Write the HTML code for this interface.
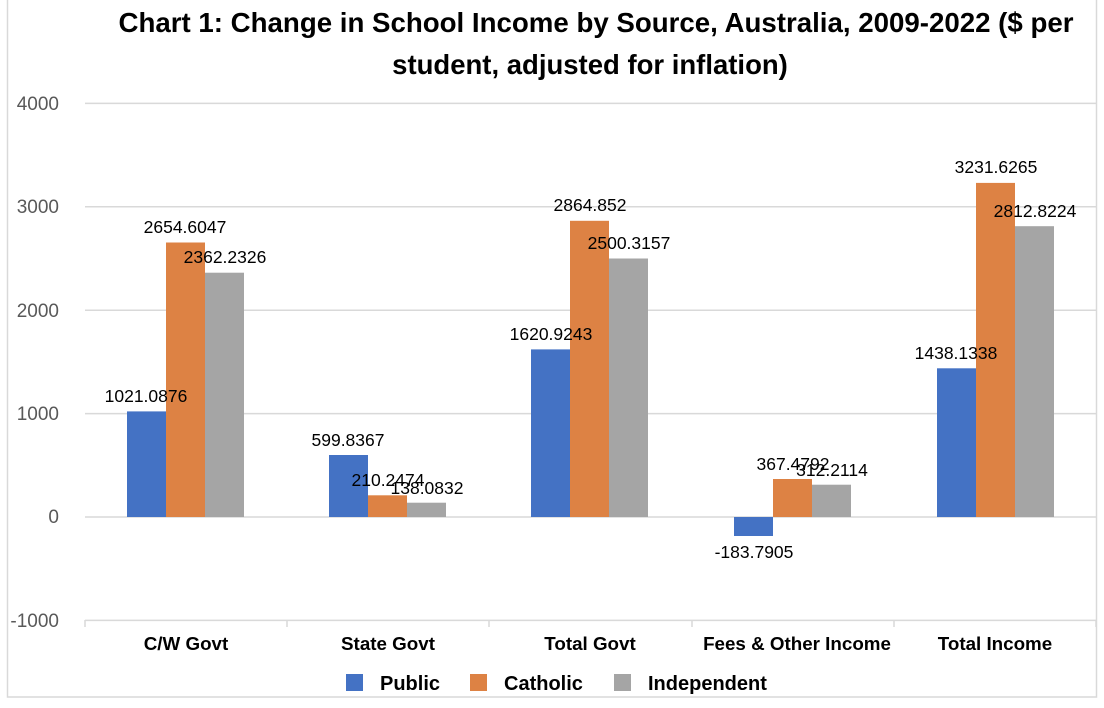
<!DOCTYPE html>
<html><head><meta charset="utf-8"><style>
body{margin:0;background:#fff}
svg{display:block;font-family:"Liberation Sans",Carlito,Calibri,sans-serif}
</style></head><body>
<svg width="1104" height="708" viewBox="0 0 1104 708">
<rect x="7.5" y="-2" width="1089" height="699" fill="#fff" stroke="#d9d9d9" stroke-width="1.5"/>
<text x="596" y="32" font-size="27.5" font-weight="bold" text-anchor="middle" fill="#000" textLength="955" lengthAdjust="spacingAndGlyphs">Chart 1: Change in School Income by Source, Australia, 2009-2022 ($ per</text>
<text x="590" y="74" font-size="27.5" font-weight="bold" text-anchor="middle" fill="#000">student, adjusted for inflation)</text>
<g stroke="#d9d9d9" stroke-width="1.5">
<line x1="85" x2="1096" y1="103.4" y2="103.4"/>
<line x1="85" x2="1096" y1="206.8" y2="206.8"/>
<line x1="85" x2="1096" y1="310.2" y2="310.2"/>
<line x1="85" x2="1096" y1="413.6" y2="413.6"/>
<line x1="85" x2="1096" y1="517" y2="517"/>
<line x1="85" x2="1096" y1="620.4" y2="620.4"/>
<line x1="85" x2="85" y1="620" y2="627"/>
<line x1="287" x2="287" y1="620" y2="627"/>
<line x1="489" x2="489" y1="620" y2="627"/>
<line x1="692" x2="692" y1="620" y2="627"/>
<line x1="894" x2="894" y1="620" y2="627"/>
<line x1="1096" x2="1096" y1="620" y2="627"/>
</g>
<g font-size="19" fill="#595959" text-anchor="end">
<text x="59" y="110">4000</text>
<text x="59" y="213">3000</text>
<text x="59" y="317">2000</text>
<text x="59" y="420">1000</text>
<text x="59" y="523">0</text>
<text x="59" y="627">-1000</text>
</g>
<g>
<rect x="127" y="411.4" width="39" height="105.6" fill="#4472c4"/>
<rect x="166" y="242.5" width="39" height="274.5" fill="#dd8244"/>
<rect x="205" y="272.7" width="39" height="244.3" fill="#a5a5a5"/>
<rect x="329" y="455" width="39" height="62" fill="#4472c4"/>
<rect x="368" y="495.3" width="39" height="21.7" fill="#dd8244"/>
<rect x="407" y="502.7" width="39" height="14.3" fill="#a5a5a5"/>
<rect x="531" y="349.4" width="39" height="167.6" fill="#4472c4"/>
<rect x="570" y="220.8" width="39" height="296.2" fill="#dd8244"/>
<rect x="609" y="258.5" width="39" height="258.5" fill="#a5a5a5"/>
<rect x="734" y="517" width="39" height="19" fill="#4472c4"/>
<rect x="773" y="479" width="39" height="38" fill="#dd8244"/>
<rect x="812" y="484.7" width="39" height="32.3" fill="#a5a5a5"/>
<rect x="937" y="368.3" width="39" height="148.7" fill="#4472c4"/>
<rect x="976" y="182.9" width="39" height="334.1" fill="#dd8244"/>
<rect x="1015" y="226.2" width="39" height="290.8" fill="#a5a5a5"/>
</g>
<g font-size="17.5" fill="#000" text-anchor="middle">
<text x="146" y="402">1021.0876</text>
<text x="185" y="233">2654.6047</text>
<text x="225" y="263">2362.2326</text>
<text x="348" y="446">599.8367</text>
<text x="388" y="486">210.2474</text>
<text x="427" y="494">138.0832</text>
<text x="551" y="340">1620.9243</text>
<text x="590" y="211">2864.852</text>
<text x="629" y="249">2500.3157</text>
<text x="754" y="558">-183.7905</text>
<text x="793" y="470">367.4792</text>
<text x="832" y="476">312.2114</text>
<text x="956" y="359">1438.1338</text>
<text x="996" y="173">3231.6265</text>
<text x="1035" y="217">2812.8224</text>
</g>
<g font-size="18.8" font-weight="bold" fill="#000" text-anchor="middle">
<text x="186" y="650">C/W Govt</text>
<text x="388" y="650">State Govt</text>
<text x="590" y="650">Total Govt</text>
<text x="797" y="650">Fees &amp; Other Income</text>
<text x="995" y="650">Total Income</text>
</g>
<g font-size="20" font-weight="bold" fill="#000">
<rect x="346" y="674" width="17" height="17" fill="#4472c4"/>
<text x="380" y="690">Public</text>
<rect x="470" y="674" width="17" height="17" fill="#dd8244"/>
<text x="504" y="690">Catholic</text>
<rect x="614" y="674" width="17" height="17" fill="#a5a5a5"/>
<text x="648" y="690">Independent</text>
</g>
</svg>
</body></html>
